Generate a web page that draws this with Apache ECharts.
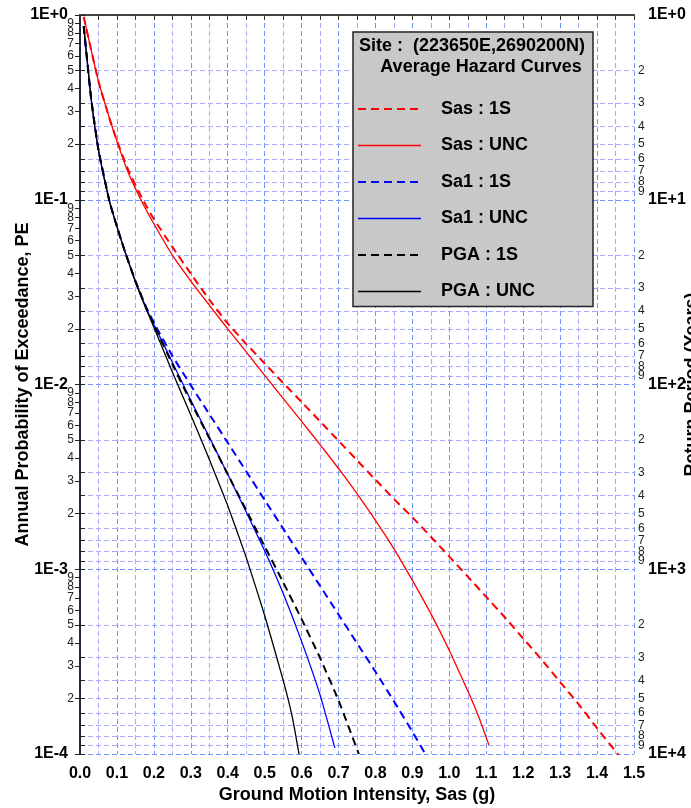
<!DOCTYPE html>
<html><head><meta charset="utf-8">
<script src="https://cdn.jsdelivr.net/npm/echarts@6/dist/echarts.min.js"></script>
<style>html,body{margin:0;padding:0;background:#fff}#chart{width:691px;height:808px}</style>
</head><body><div id="chart"></div>
<script>
// ---- data (Ground motion intensity in g, annual probability of exceedance) ----
const sas1S_x  = [0.01,0.05,0.08,0.10,0.13,0.17,0.20,0.25,0.30,0.35,0.40,0.45,0.50,0.55,0.60,0.65,0.70,0.75,0.80,0.85,0.90,0.95,1.00,1.05,1.10,1.15,1.20,1.25,1.30,1.35,1.40,1.46];
const sas1S_pe = [0.977,0.437,0.275,0.209,0.146,0.100,0.0785,0.0556,0.0398,0.0288,0.0214,0.0166,0.0130,0.0102,0.00804,0.00631,0.00496,0.00389,0.00305,0.00240,0.00191,0.00150,0.00117,0.000912,0.000708,0.000550,0.000422,0.000324,0.000245,0.000186,0.000138,0.0000977];

const sasUNC_x  = [0.01,0.05,0.08,0.10,0.13,0.17,0.20,0.25,0.30,0.35,0.40,0.45,0.50,0.55,0.60,0.65,0.70,0.75,0.80,0.85,0.90,0.95,1.00,1.05,1.08,1.107];
const sasUNC_pe = [0.977,0.437,0.275,0.207,0.141,0.0955,0.0741,0.0501,0.0363,0.0269,0.0200,0.0150,0.0112,0.00841,0.00631,0.00473,0.00351,0.00257,0.00184,0.00129,0.000871,0.000575,0.000363,0.000219,0.000158,0.000112];

const sa11S_x  = [0.01,0.03,0.05,0.08,0.10,0.12,0.15,0.18,0.20,0.25,0.30,0.35,0.40,0.45,0.50,0.55,0.60,0.65,0.70,0.75,0.80,0.85,0.90,0.935];
const sa11S_pe = [0.871,0.355,0.186,0.0977,0.0716,0.0537,0.0363,0.0260,0.0216,0.0143,0.00989,0.00692,0.00484,0.00339,0.00237,0.00166,0.00116,0.000813,0.000569,0.000398,0.000279,0.000193,0.000132,0.000100];

const sa1UNC_x  = [0.01,0.03,0.05,0.08,0.10,0.12,0.15,0.18,0.20,0.25,0.30,0.35,0.40,0.45,0.50,0.55,0.60,0.65,0.69];
const sa1UNC_pe = [0.871,0.355,0.186,0.0977,0.0716,0.0537,0.0363,0.0257,0.0211,0.0132,0.00822,0.00519,0.00327,0.00204,0.00126,0.000741,0.000407,0.000209,0.000108];

const pga1S_x  = [0.01,0.03,0.05,0.08,0.10,0.12,0.15,0.18,0.20,0.25,0.30,0.35,0.40,0.45,0.50,0.55,0.60,0.65,0.70,0.755];
const pga1S_pe = [0.871,0.355,0.186,0.0977,0.0716,0.0537,0.0363,0.0257,0.0211,0.0129,0.00804,0.00513,0.00327,0.00209,0.00133,0.000851,0.000537,0.000331,0.000195,0.000100];

const pgaUNC_x  = [0.01,0.03,0.05,0.08,0.10,0.12,0.15,0.18,0.20,0.25,0.30,0.35,0.40,0.45,0.50,0.55,0.575,0.593];
const pgaUNC_pe = [0.871,0.355,0.186,0.0977,0.0716,0.0537,0.0359,0.0254,0.0204,0.0117,0.00684,0.00394,0.00221,0.00116,0.000562,0.000251,0.000158,0.000100];

const seriesNames = ['Sas : 1S','Sas : UNC','Sa1 : 1S','Sa1 : UNC','PGA : 1S','PGA : UNC'];

// ---- axis tick definitions ----
const peDecades = [0.0001, 0.001, 0.01, 0.1, 1];          // left axis majors
const returnDecades = [1, 10, 100, 1000, 10000];           // right axis majors (years)
const minorDigits = [2,3,4,5,6,7,8,9];
const xMin = 0, xMax = 1.5, xStep = 0.05;

const FONT = "'Liberation Sans', Arial, sans-serif";
const MAJ = '#6e94ff', MIN = '#a9a9ff';
const lg = Math.log10;

const leftMajor = peDecades.map(lg);
const leftMinorEven = [], leftMinorOdd = [];
peDecades.forEach((d, i) => {
  if (i < peDecades.length - 1) minorDigits.forEach(m => (m % 2 ? leftMinorOdd : leftMinorEven).push(lg(m * d)));
});
const leftTicks = leftMajor.concat(leftMinorEven, leftMinorOdd).sort((a, b) => a - b);

const rightTicks = [];
returnDecades.forEach((d, i) => {
  rightTicks.push(-lg(d));
  if (i < returnDecades.length - 1) minorDigits.forEach(m => rightTicks.push(-lg(m * d)));
});
rightTicks.sort((a, b) => a - b);

function isInt(v) { return Math.abs(v - Math.round(v)) < 1e-6; }
function leftMajFmt(v) { const e = Math.round(v); return '1E' + (e >= 0 ? '+' : '-') + Math.abs(e); }
function leftMinFmt(v) { return String(Math.round(Math.pow(10, v - Math.floor(v)))); }
function rightFmt(v) {
  const t = -v;
  if (isInt(t)) { const e = Math.round(t); return '{maj|1E+' + Math.abs(e) + '}'; }
  return '{min|' + Math.round(Math.pow(10, t - Math.floor(t))) + '}';
}

function mk(name, xs, pes, color, dashed) {
  return {
    name, type: 'line', symbol: 'none', showSymbol: false, smooth: 0.15, clip: true,
    data: xs.map((x, i) => [x, lg(pes[i])]),
    lineStyle: { color, width: dashed ? 2 : 1.3, type: dashed ? [8, 5] : 'solid' },
    itemStyle: { color }, z: 5
  };
}

const nameStyle = { fontFamily: FONT, fontSize: 18, fontWeight: 'bold', color: '#000' };
function labelAxis(values, margin, fmt, style) {
  return {
    type: 'value', min: -4, max: 0, position: 'left', offset: 0,
    axisLine: { show: false }, axisTick: { show: false }, splitLine: { show: false },
    axisLabel: Object.assign({ customValues: values, margin, formatter: fmt, hideOverlap: false,
      showMinLabel: true, showMaxLabel: true }, style)
  };
}

const chart = echarts.init(document.getElementById('chart'), null, { renderer: 'canvas' });
const option = {
  animation: false,
  backgroundColor: '#fff',
  grid: { left: 80, right: 57, top: 15, bottom: 54, containLabel: false, outerBoundsMode: 'none' },
  xAxis: [{
    type: 'value', min: xMin, max: xMax, interval: xStep, position: 'bottom',
    axisLine: { show: true, lineStyle: { color: '#444', width: 2 } },
    axisTick: { show: true, inside: false, length: 5, lineStyle: { color: '#333' } },
    axisLabel: { margin: 12, fontFamily: FONT, fontSize: 16, fontWeight: 'bold', color: '#000',
      showMinLabel: true, showMaxLabel: true, hideOverlap: false,
      formatter: v => (Math.abs(v * 10 - Math.round(v * 10)) < 1e-6 ? v.toFixed(1) : '') },
    splitLine: { show: true, lineStyle: { color: [MAJ, MIN], type: [5, 3], width: 1 } },
    name: 'Ground Motion Intensity, Sas (g)', nameLocation: 'middle', nameGap: 32, nameMoveOverlap: false,
    nameTextStyle: nameStyle
  }, {
    type: 'value', min: xMin, max: xMax, interval: xStep, position: 'top',
    axisLine: { show: true, lineStyle: { color: '#444', width: 1.5, type: [5, 3] } },
    axisTick: { show: true, inside: true, length: 5, lineStyle: { color: '#333' } },
    axisLabel: { show: false }, splitLine: { show: false }
  }],
  yAxis: [{
    // left axis: line, all ticks, small even-digit labels
    type: 'value', min: -4, max: 0, position: 'left',
    axisLine: { show: true, lineStyle: { color: '#1c1c30', width: 1.5 } },
    axisTick: { show: true, inside: false, length: 5, customValues: leftTicks, lineStyle: { color: '#222' } },
    axisLabel: { customValues: leftMinorEven, margin: 6, formatter: leftMinFmt, hideOverlap: false,
      showMinLabel: true, showMaxLabel: true, fontFamily: FONT, fontSize: 12, color: '#222' },
    splitLine: { show: false },
    name: 'Annual Probability of Exceedance, PE', nameLocation: 'middle', nameRotate: 90, nameGap: 48, nameMoveOverlap: false,
    nameTextStyle: nameStyle
  }, {
    type: 'value', min: -4, max: 0, position: 'right',
    axisLine: { show: true, lineStyle: { color: '#1c1c30', width: 1.5 } },
    axisTick: { show: true, inside: false, length: 5, customValues: rightTicks, lineStyle: { color: '#222' } },
    axisLabel: { customValues: rightTicks, margin: 4, formatter: rightFmt,
      showMinLabel: true, showMaxLabel: true, hideOverlap: false,
      rich: {
        maj: { fontFamily: FONT, fontSize: 16, fontWeight: 'bold', color: '#000', padding: [0, 0, 0, 10] },
        min: { fontFamily: FONT, fontSize: 12, color: '#222' }
      } },
    splitLine: { show: true, lineStyle: { color: [MAJ, MIN, MIN, MIN, MIN, MIN, MIN, MIN, MIN], type: [5, 3], width: 1 } },
    name: 'Return Period (Years)', nameLocation: 'middle', nameRotate: 90, nameGap: 49, nameMoveOverlap: false,
    nameTextStyle: nameStyle
  },
  // left axis: decade labels (1E+0 ... 1E-4)
  labelAxis(leftMajor, 12, leftMajFmt, { fontFamily: FONT, fontSize: 16, fontWeight: 'bold', color: '#000' }),
  // left axis: small odd-digit labels
  labelAxis(leftMinorOdd, 6, leftMinFmt, { fontFamily: FONT, fontSize: 12, color: '#222' })
  ],
  legend: {
    orient: 'vertical', left: 353, top: 32, padding: [68, 58, 6, 4],
    itemWidth: 63, itemHeight: 14, itemGap: 18.5,
    backgroundColor: '#c8c8c8', borderColor: '#222', borderWidth: 1.5,
    selectedMode: false,
    itemStyle: { opacity: 0 }, lineStyle: { width: 'inherit' },
    textStyle: { fontFamily: FONT, fontSize: 18, fontWeight: 'bold', color: '#000', padding: [0, 0, 0, 15] },
    data: seriesNames
  },
  graphic: [
    { type: 'text', x: 472, y: 46, z: 100, zlevel: 0,
      style: { text: 'Site :  (223650E,2690200N)', fontFamily: FONT, fontSize: 18, fontWeight: 'bold', fill: '#000', align: 'center', verticalAlign: 'middle' } },
    { type: 'text', x: 481, y: 67, z: 100, zlevel: 0,
      style: { text: 'Average Hazard Curves', fontFamily: FONT, fontSize: 18, fontWeight: 'bold', fill: '#000', align: 'center', verticalAlign: 'middle' } }
  ],
  series: [
    mk(seriesNames[0], sas1S_x, sas1S_pe, '#ff0000', true),
    mk(seriesNames[1], sasUNC_x, sasUNC_pe, '#ff0000', false),
    mk(seriesNames[2], sa11S_x, sa11S_pe, '#0000ff', true),
    mk(seriesNames[3], sa1UNC_x, sa1UNC_pe, '#0000ff', false),
    mk(seriesNames[4], pga1S_x, pga1S_pe, '#000000', true),
    mk(seriesNames[5], pgaUNC_x, pgaUNC_pe, '#000000', false)
  ]
};
chart.setOption(option);
</script>
</body></html>
